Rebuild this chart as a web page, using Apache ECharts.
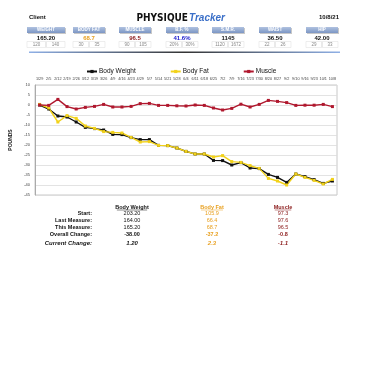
<!DOCTYPE html>
<html><head><meta charset="utf-8">
<script src="https://cdn.jsdelivr.net/npm/echarts@6/dist/echarts.min.js"></script>
<style>html,body{margin:0;padding:0;background:#fff}#c{width:365px;height:365px}</style>
</head><body><div id="c"></div>
<script>
const dates = ["1/29","2/5","2/12","2/19","2/26","3/12","3/19","3/26","4/9","4/16","4/23","4/29","5/7","5/14","5/21","5/28","6/4","6/11","6/18","6/25","7/2","7/9","7/16","7/23","7/30","8/20","8/27","9/2","9/10","9/16","9/23","10/1","10/8"];
const bodyWeight = [0,-2,-5.5,-6,-8.5,-11.2,-11.8,-12.5,-14.7,-14.8,-16.3,-17.3,-17.3,-20.2,-20.3,-21.5,-23.2,-24.5,-24.5,-27.7,-27.8,-30,-28.8,-31.5,-31.8,-34.7,-36.2,-38.7,-34.5,-35.8,-37.3,-39.2,-38];
const bodyFat = [0.3,-1.5,-8.5,-5.3,-6.7,-10.5,-11.7,-13.3,-13.7,-14,-16.2,-18.5,-18.3,-20.2,-20.3,-21.5,-23.2,-24.5,-24.5,-26,-25.3,-28.3,-28.7,-30.3,-31.7,-36.7,-38,-40,-34.5,-36.2,-37.7,-39.5,-37.2];
const muscle = [0,-0.2,2.8,-0.8,-2,-1.2,-0.7,0.3,-1,-1,-0.7,0.7,0.8,-0.2,-0.2,-0.4,-0.5,0,-0.2,-1.5,-2.5,-1.7,0.4,-1,0.3,2.3,1.8,1.2,-0.2,-0.1,-0.1,0.3,-0.8];

const metricNames = ["WEIGHT","BODY FAT","MUSCLE","B.F. %","S.M.R.","WAIST","HIP"];
const metricValues = ["165.20","68.7","96.5","41.6%","1145","36.50","42.00"];
const metricLow = ["120","30","90","20%","1120","22","29"];
const metricHigh = ["140","35","105","30%","1672","26","33"];
const metricColors = ["#111","#e8a020","#8b1a1a","#1a1acc","#111","#111","#111"];

const rowLabels = ["Start:","Last Measure:","This Measure:","Overall Change:"];
const currentLabel = "Current Change:";
const summaryHeads = ["Body Weight","Body Fat","Muscle"];
const summaryWeight = ["203.20","164.00","165.20","-38.00","1.20"];
const summaryFat = ["105.9","66.4","68.7","-37.2","2.3"];
const summaryMuscle = ["97.3","97.6","96.5","-0.8","-1.1"];
const summaryColors = ["#111","#e8a020","#8b1a1a"];

const clientLabel = "Client";
const dateLabel = "10/8/21";

const FONT = "Liberation Sans, Arial, sans-serif";
const g = [];
function txt(x,y,t,size,color,opts){
  opts = opts||{};
  g.push({type:'text', x:x, y:y, rotation:opts.rot||0, z:10, style:{text:t, fill:color,
    font:(opts.italic?'italic ':'')+(opts.bold?'bold ':'')+size+'px '+(opts.family||FONT),
    textAlign:opts.align||'center', textVerticalAlign:'middle'}});
}
// header
txt(29,17,clientLabel,6,'#111',{bold:true,align:'left'});
txt(339,17,dateLabel,6,'#111',{bold:true,align:'right'});
txt(188,18,"PHYSIQUE",10,'#111',{bold:true,align:'right',family:'"DejaVu Sans Condensed","Liberation Sans Narrow",sans-serif'});
txt(189,18.5,"Tracker",10,'#3a6fc8',{bold:true,italic:true,align:'left',family:'"Liberation Sans Narrow","Liberation Sans",sans-serif'});

const centers = [46,89,135,182,228,275,322];
metricNames.forEach((n,i)=>{
  const cx = centers[i], w = (i===0?38:32);
  g.push({type:'rect', shape:{x:cx-w/2+1,y:28,width:w,height:6}, style:{fill:'#c8c8c8'}, z:1});
  g.push({type:'rect', shape:{x:cx-w/2,y:27,width:w,height:6}, z:2,
    style:{fill:new echarts.graphic.LinearGradient(0,0,0,1,[{offset:0,color:'#b0c2e0'},{offset:1,color:'#7c96c4'}])}});
  txt(cx,30.2,n,4.5,'#fff',{bold:true});
  txt(cx,38,metricValues[i],6,metricColors[i],{bold:true});
  g.push({type:'rect', shape:{x:cx-w/2,y:41.5,width:w,height:6}, style:{fill:'none',stroke:'#e2e2e2',lineWidth:0.6}, z:1});
  g.push({type:'line', shape:{x1:cx,y1:42,x2:cx,y2:47}, style:{stroke:'#bbb',lineWidth:0.6}, z:1});
  txt(cx-w/4,44.6,metricLow[i],4.5,'#888');
  txt(cx+w/4,44.6,metricHigh[i],4.5,'#888');
});
g.push({type:'rect', shape:{x:29,y:51.5,width:311,height:1.6}, z:1,
  style:{fill:new echarts.graphic.LinearGradient(0,0,1,0,[{offset:0,color:'#8fb0e6'},{offset:0.5,color:'#333'},{offset:1,color:'#8fb0e6'}])}});

// summary table
const colX = [132,212,283];
const rowY = [213,220,227,234];
summaryHeads.forEach((h,j)=>{
  txt(colX[j],207,h,5.5,summaryColors[j],{bold:true});
  const hw = h.length*2.75;
  g.push({type:'line', shape:{x1:colX[j]-hw/2,y1:210,x2:colX[j]+hw/2,y2:210}, style:{stroke:summaryColors[j],lineWidth:0.5}});
});
const cols = [summaryWeight, summaryFat, summaryMuscle];
rowLabels.forEach((l,i)=>{
  txt(92,rowY[i],l,5.5,'#111',{bold:true,align:'right'});
  cols.forEach((c,j)=>txt(colX[j],rowY[i],c[i],5.5,summaryColors[j],{bold:i===3}));
});
txt(92,243,currentLabel,6,'#111',{bold:true,italic:true,align:'right'});
cols.forEach((c,j)=>txt(colX[j],243,c[4],6,summaryColors[j],{bold:true,italic:true}));

const chart = echarts.init(document.getElementById('c'), null, {renderer:'canvas'});
const mk = (name,data,color)=>({name, type:'line', data, symbol:'rect', symbolSize:3,
  lineStyle:{color, width:1.4}, itemStyle:{color}, animation:false});
chart.setOption({
  animation:false,
  textStyle:{fontFamily:FONT},
  legend:{top:63, left:81, itemGap:34, itemWidth:10, itemHeight:4,
    textStyle:{fontSize:6.5, color:'#111', padding:[0,0,0,-3]},
    data:['Body Weight','Body Fat','Muscle']},
  grid:{left:35, right:28, top:85, bottom:170, show:true, borderColor:'#c8c8c8', borderWidth:1},
  xAxis:{type:'category', data:dates, position:'top', boundaryGap:true,
    axisLine:{show:false}, axisTick:{show:false},
    axisLabel:{fontSize:3.8, color:'#444', margin:4, interval:0}},
  yAxis:{type:'value', min:-45, max:10, interval:5,
    name:'POUNDS', nameLocation:'middle', nameRotate:90, nameGap:22,
    nameTextStyle:{fontSize:5, fontWeight:'bold', color:'#111'},
    axisLine:{show:true, lineStyle:{color:'#aaa'}}, axisTick:{show:false},
    axisLabel:{fontSize:4, color:'#444', margin:5},
    splitLine:{lineStyle:{color:'#dcdcdc', width:0.8}}},
  series:[mk('Body Weight',bodyWeight,'#111'), mk('Body Fat',bodyFat,'#f2d21a'), mk('Muscle',muscle,'#b0182e')],
  graphic:g
});
</script></body></html>
